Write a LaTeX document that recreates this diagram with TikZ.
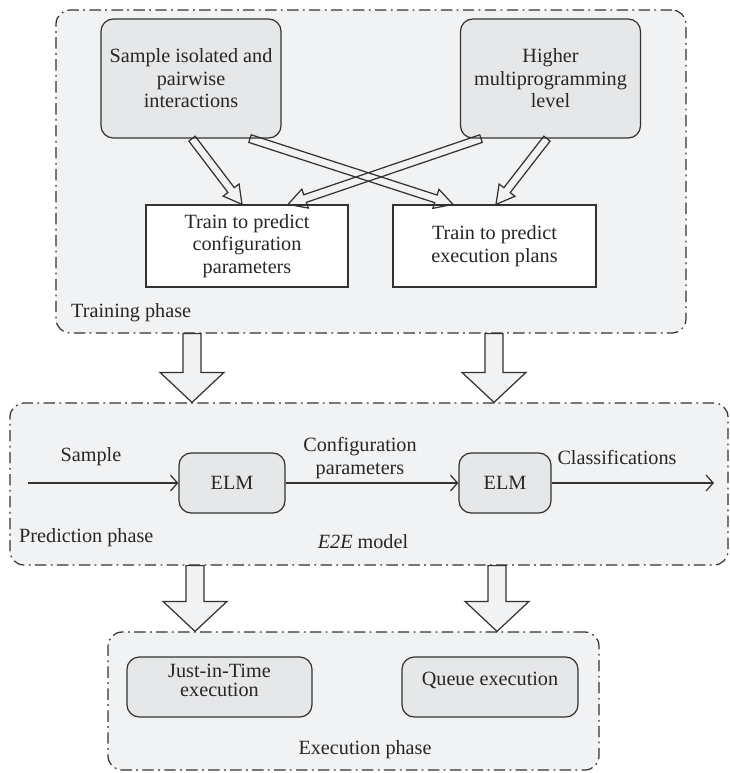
\documentclass[tikz,border=0pt]{standalone}
\usepackage{fontspec}
\setmainfont{Liberation Serif}
\usepackage{tikz}
\usetikzlibrary{calc,arrows.meta}
\definecolor{panelgray}{RGB}{241,242,244}
\definecolor{boxgray}{RGB}{230,231,233}
\definecolor{linegray}{RGB}{50,50,50}

% outlined arrow: [style]{start}{tip}{half shaft}{half head}{head length}
\newcommand{\hollowarrow}[6][]{%
  \coordinate (ha-s) at #2;
  \coordinate (ha-t) at #3;
  \coordinate (ha-n) at ($(ha-t)!#6!(ha-s)$);
  \draw[linegray,line width=0.7pt,line join=miter,#1]
    ($(ha-s)!#4!90:(ha-t)$) -- ($(ha-n)!#4!90:(ha-t)$) -- ($(ha-n)!#5!90:(ha-t)$)
    -- (ha-t) -- ($(ha-n)!#5!-90:(ha-t)$) -- ($(ha-n)!#4!-90:(ha-t)$)
    -- ($(ha-s)!#4!-90:(ha-t)$) -- cycle;
}

\begin{document}
\begin{tikzpicture}[
    every node/.style={font=\fontsize{11.5}{12.8}\selectfont, text=black!85},
    panel/.style={draw=linegray, fill=panelgray, rounded corners=8pt, line width=0.7pt,
                  dash pattern=on 6.5pt off 2.5pt on 1pt off 2.5pt},
    softbox/.style={draw=linegray, fill=boxgray, rounded corners=7pt, line width=0.7pt,
                    align=center, inner sep=2pt},
    plainbox/.style={draw=linegray, fill=white, line width=0.7pt, align=center, inner sep=2pt},
    flow/.style={->, linegray, line width=0.7pt},
    >={Straight Barb[length=4pt,width=9pt]}
]
    \useasboundingbox (0,0) rectangle (14.6,-15.46);

    % Phase panels
    \node[panel, minimum width=12.6cm, minimum height=6.46cm] (train) at (7.42,-3.43) {};
    \node[panel, minimum width=14.36cm, minimum height=3.24cm] (pred) at (7.38,-9.68) {};
    \node[panel, minimum width=9.82cm, minimum height=2.76cm] (exec) at (7.07,-14.02) {};

    % Training phase
    \node[softbox, minimum width=3.6cm, minimum height=2.38cm] (samp) at (3.82,-1.57)
        {Sample isolated and\\pairwise\\interactions};
    \node[softbox, minimum width=3.6cm, minimum height=2.38cm] (high) at (11.01,-1.57)
        {Higher\\multiprogramming\\level};
    \node[plainbox, minimum width=4.04cm, minimum height=1.64cm] (conf) at (4.94,-4.92)
        {Train to predict\\configuration\\parameters};
    \node[plainbox, minimum width=4.06cm, minimum height=1.64cm] (plan) at (9.89,-4.92)
        {Train to predict\\execution plans};
    \node[anchor=west] (trainlbl) at (1.3,-6.26) {Training phase};

    \hollowarrow{([xshift=0.02cm]samp.south)}{([xshift=-0.1cm]conf.north)}{0.08cm}{0.2cm}{0.36cm}
    \hollowarrow{([xshift=1.18cm]samp.south)}{([xshift=-0.83cm]plan.north)}{0.08cm}{0.2cm}{0.36cm}
    \hollowarrow{([xshift=-1.39cm]high.south)}{([xshift=0.82cm]conf.north)}{0.08cm}{0.2cm}{0.36cm}
    \hollowarrow{([xshift=-0.07cm]high.south)}{([xshift=0.03cm]plan.north)}{0.08cm}{0.2cm}{0.36cm}

    % Between phases
    \hollowarrow[fill=panelgray]{([xshift=-3.58cm]train.south)}{([xshift=-3.54cm]pred.north)}{0.18cm}{0.64cm}{0.6cm}
    \hollowarrow[fill=panelgray]{([xshift=2.46cm]train.south)}{([xshift=2.5cm]pred.north)}{0.18cm}{0.64cm}{0.6cm}
    \hollowarrow[fill=panelgray]{([xshift=-3.48cm]pred.south)}{([xshift=-3.17cm]exec.north)}{0.18cm}{0.64cm}{0.6cm}
    \hollowarrow[fill=panelgray]{([xshift=2.56cm]pred.south)}{([xshift=2.87cm]exec.north)}{0.18cm}{0.64cm}{0.6cm}

    % Prediction phase
    \node[softbox, minimum width=2.12cm, minimum height=1.2cm] (elmA) at (4.64,-9.66) {ELM};
    \node[softbox, minimum width=1.84cm, minimum height=1.2cm] (elmB) at (10.1,-9.66) {ELM};
    \coordinate (in) at (0.56,-9.66);
    \coordinate (out) at (14.28,-9.66);
    \draw[flow] (in) -- (elmA);
    \draw[flow] (elmA) -- (elmB);
    \draw[flow] (elmB) -- (out);
    \node (samplbl) at (1.82,-9.14) {Sample};
    \node[align=center] (cfglbl) at (7.2,-9.16) {Configuration\\parameters};
    \node (clslbl) at (12.34,-9.14) {Classifications};
    \node[anchor=west] (predlbl) at (0.26,-10.76) {Prediction phase};
    \node (e2elbl) at (7.26,-10.84) {\textit{E2E} model};

    % Execution phase
    \node[softbox, minimum width=3.7cm, minimum height=1.2cm, text depth=0.28cm] (jit) at (4.39,-13.74)
        {Just-in-Time\\[-2pt]execution};
    \node[softbox, minimum width=3.52cm, minimum height=1.2cm, text depth=0.32cm] (queue) at (9.8,-13.74)
        {Queue execution};
    \node (execlbl) at (7.3,-15.0) {Execution phase};
\end{tikzpicture}
\end{document}
